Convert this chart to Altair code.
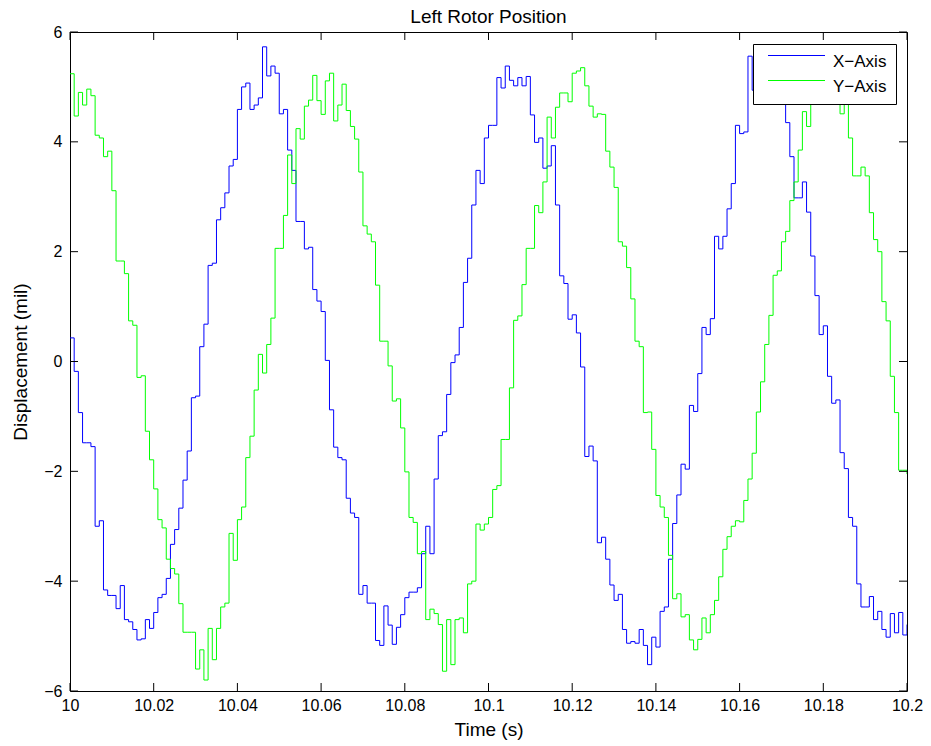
import altair as alt
import pandas as pd

# Rotor displacement samples (mil), one per millisecond starting at t = 10 s
x_axis = [
    0.43, -0.18, -0.93, -1.48, -1.48, -1.55, -3.0, -2.9, -4.16, -4.26,
    -4.26, -4.5, -4.08, -4.7, -4.74, -4.88, -5.07, -5.05, -4.7, -4.86,
    -4.57, -4.3, -4.24, -3.95, -3.33, -3.06, -2.67, -2.16, -1.63, -0.66,
    -0.63, 0.27, 0.68, 1.75, 1.79, 2.58, 2.8, 3.07, 3.56, 3.68,
    4.59, 5.0, 5.07, 4.59, 4.67, 4.8, 5.73, 5.2, 5.38, 5.25,
    4.51, 4.59, 3.85, 3.48, 2.55, 2.55, 2.05, 2.08, 1.31, 1.1,
    0.91, 0.02, -0.88, -1.56, -1.75, -1.79, -2.49, -2.76, -2.84, -4.24,
    -4.08, -4.4, -4.4, -5.08, -5.17, -4.45, -4.8, -5.15, -4.84, -4.61,
    -4.3, -4.2, -4.2, -4.12, -3.5, -3.0, -3.5, -2.14, -1.35, -1.28,
    -0.6, -0.02, 0.12, 0.62, 1.44, 1.88, 2.85, 3.48, 3.24, 4.07,
    4.3, 4.3, 5.17, 4.98, 5.38, 5.12, 5.02, 5.17, 5.02, 5.19,
    4.49, 3.99, 4.07, 3.52, 3.56, 3.93, 2.85, 1.56, 1.42, 0.77,
    0.85, 0.52, -0.1, -1.73, -1.54, -1.81, -3.3, -3.2, -3.6, -4.07,
    -4.35, -4.24, -4.88, -5.13, -5.1, -5.13, -4.88, -5.17, -5.52, -5.02,
    -5.2, -4.55, -4.47, -3.6, -2.95, -2.43, -1.87, -1.96, -0.8, -0.91,
    -0.22, 0.62, 0.49, 0.78, 2.28, 2.05, 2.28, 2.78, 3.24, 4.3,
    4.15, 4.18, 5.56, 4.94, 5.0, 5.3, 5.4, 5.2, 5.5, 5.1,
    4.8, 4.35, 3.73, 2.98, 2.98, 3.27, 2.72, 1.92, 1.2, 0.49,
    0.65, -0.27, -0.76, -0.7, -1.66, -1.95, -2.84, -3.0, -4.05, -4.47,
    -4.47, -4.28, -4.7, -4.55, -4.88, -5.02, -4.59, -4.94, -4.57, -4.98,
    -4.79,
]
y_axis = [
    5.24, 4.47, 4.9, 4.67, 4.96, 4.84, 4.12, 4.07, 3.73, 3.83,
    3.11, 1.83, 1.83, 1.6, 0.74, 0.66, -0.29, -0.26, -1.27, -1.79,
    -2.32, -2.88, -3.03, -3.6, -3.77, -3.87, -4.41, -4.93, -4.93, -4.93,
    -5.6, -5.25, -5.8, -4.86, -5.43, -4.86, -4.47, -4.4, -3.13, -3.62,
    -2.88, -2.65, -1.75, -1.36, -0.52, 0.13, -0.21, 0.31, 0.79, 2.06,
    2.06, 2.66, 3.76, 3.24, 4.24, 4.05, 4.65, 4.76, 5.21, 4.75,
    4.5, 5.11, 5.25, 4.38, 4.67, 5.05, 4.57, 4.28, 4.05, 3.45,
    2.47, 2.32, 2.18, 1.39, 0.37, 0.37, -0.08, -0.72, -0.68, -1.21,
    -2.01, -2.84, -2.93, -3.5, -3.46, -4.7, -4.51, -4.59, -4.79, -5.64,
    -4.7, -5.52, -4.7, -4.67, -4.94, -4.05, -4.0, -2.96, -3.07, -2.96,
    -2.84, -2.33, -2.26, -1.42, -1.42, -0.48, 0.75, 0.83, 1.4, 2.06,
    2.06, 2.84, 2.71, 3.27, 4.45, 4.07, 4.63, 4.89, 4.89, 4.73,
    5.25, 5.29, 5.35, 5.02, 4.65, 4.45, 4.51, 4.5, 3.83, 3.54,
    3.17, 2.18, 2.1, 1.71, 1.14, 0.37, 0.27, -0.93, -0.92, -1.6,
    -2.44, -2.65, -2.84, -3.53, -4.32, -4.23, -4.65, -4.61, -5.07, -5.25,
    -5.06, -4.67, -4.94, -4.61, -4.35, -3.92, -3.42, -3.19, -3.0, -2.9,
    -2.92, -2.53, -2.14, -1.67, -0.92, -0.37, 0.31, 0.84, 1.57, 1.65,
    2.18, 2.37, 2.93, 3.27, 3.85, 4.55, 4.28, 4.8, 5.0, 5.1,
    4.9, 5.0, 4.85, 4.9, 4.51, 4.9, 4.07, 3.38, 3.38, 3.54,
    3.38, 2.71, 2.22, 2.0, 1.09, 0.74, -0.27, -0.93, -1.98, -1.98,
    -2.05,
]

series_names = ["X\u2212Axis", "Y\u2212Axis"]
series_colors = ["#0000ff", "#00ff00"]

x_ticks = [10.0, 10.02, 10.04, 10.06, 10.08, 10.1, 10.12, 10.14, 10.16, 10.18, 10.2]
y_ticks = [-6, -4, -2, 0, 2, 4, 6]

T0 = 10.0
DT = 0.001  # 1 kHz sampling

rows = []
for name, vals in zip(series_names, [x_axis, y_axis]):
    for i, v in enumerate(vals):
        rows.append({"time": round(T0 + DT * i, 4), "value": v, "series": name})
df = pd.DataFrame(rows)

W, H = 837, 659
TICK = 8
FONT = "Liberation Sans"

x_scale = alt.Scale(domain=[x_ticks[0], x_ticks[-1]], nice=False, zero=False)
y_scale = alt.Scale(domain=[y_ticks[0], y_ticks[-1]], nice=False, zero=False)

x_axis_def = alt.Axis(values=x_ticks, format=".2~f", title="Time (s)", ticks=False,
                      grid=False, domain=False, labelPadding=6, titlePadding=7,
                      labelFontSize=16, titleFontSize=19, labelFont=FONT, titleFont=FONT,
                      labelColor="black", titleColor="black", titleFontWeight="normal",
                      labelFlush=False)
y_axis_def = alt.Axis(values=y_ticks, format="d", title="Displacement (mil)",
                      ticks=False, grid=False, domain=False, labelPadding=8, titlePadding=13,
                      labelFontSize=16, titleFontSize=19, labelFont=FONT, titleFont=FONT,
                      labelColor="black", titleColor="black", titleFontWeight="normal",
                      labelFlush=False)

lines = alt.Chart(df).mark_line(interpolate="step-after", strokeWidth=1, clip=True).encode(
    x=alt.X("time:Q", scale=x_scale, axis=x_axis_def),
    y=alt.Y("value:Q", scale=y_scale, axis=y_axis_def),
    color=alt.Color("series:N", scale=alt.Scale(domain=series_names, range=series_colors),
                    legend=alt.Legend(title=None, orient="none", legendX=683, legendY=12,
                                      symbolType="M-5.7,-1.2H5.7", symbolSize=100, symbolStrokeWidth=1,
                                      symbolOffset=26, labelOffset=28, labelFontSize=17,
                                      labelFont=FONT, labelColor="black",
                                      strokeColor="black", fillColor="white", padding=9,
                                      rowPadding=7, cornerRadius=0)),
    order=alt.Order("time:Q"),
)

xt = pd.DataFrame({"time": x_ticks})
yt = pd.DataFrame({"value": y_ticks})

# inward tick marks on all four sides of the frame
tick_top = alt.Chart(xt).mark_rule(color="black", strokeWidth=1).encode(
    x=alt.X("time:Q", scale=x_scale, axis=x_axis_def), y=alt.value(0), y2=alt.value(TICK))
tick_bottom = alt.Chart(xt).mark_rule(color="black", strokeWidth=1).encode(
    x=alt.X("time:Q", scale=x_scale, axis=x_axis_def), y=alt.value(H - TICK), y2=alt.value(H))
tick_left = alt.Chart(yt).mark_rule(color="black", strokeWidth=1).encode(
    y=alt.Y("value:Q", scale=y_scale, axis=y_axis_def), x=alt.value(0), x2=alt.value(TICK))
tick_right = alt.Chart(yt).mark_rule(color="black", strokeWidth=1).encode(
    y=alt.Y("value:Q", scale=y_scale, axis=y_axis_def), x=alt.value(W - TICK), x2=alt.value(W))

chart = alt.layer(lines, tick_top, tick_bottom, tick_left, tick_right).properties(
    width=W, height=H,
    title=alt.TitleParams("Left Rotor Position", fontSize=19, font=FONT, fontWeight="normal",
                          color="black", offset=-3),
    autosize=alt.AutoSizeParams(type="none"),
    padding={"left": 70, "top": 32, "right": 24, "bottom": 55},
    background="white",
).configure_view(stroke="black", strokeWidth=1)

chart.save("out.html", embed_options={"renderer": "svg", "actions": False})
